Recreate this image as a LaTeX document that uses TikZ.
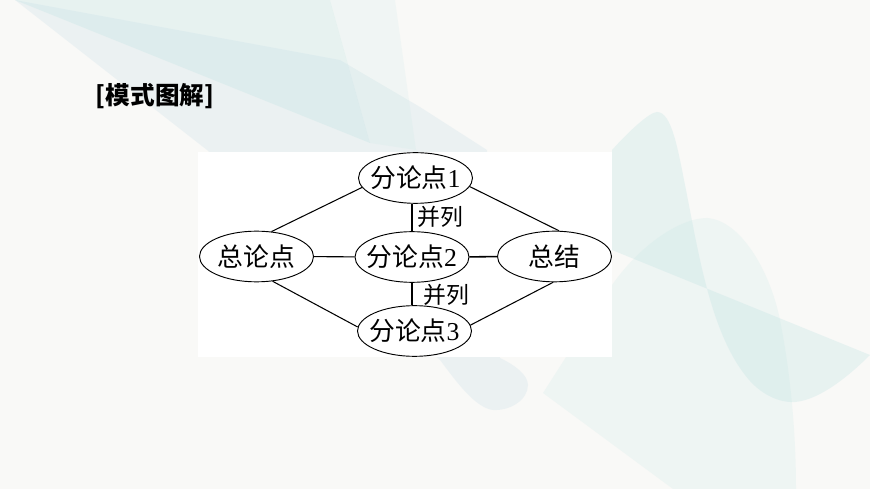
\documentclass[tikz,border=0pt]{standalone}
\usepackage{fontspec}
\usepackage{tikz}
\usetikzlibrary{shapes.geometric}
\setmainfont{Liberation Serif}
\newfontfamily\cjk{Noto Sans CJK SC}
\definecolor{pagebg}{HTML}{F9F9F7}
\definecolor{leafteal}{HTML}{BFE3E3}
\definecolor{bandgrey}{HTML}{DCE8EE}
\tikzset{
    point/.style = {ellipse, draw, line width = 0.8pt, fill = white, inner xsep = -0.6cm, inner ysep = 0pt,
        minimum width = 3.42cm, minimum height = 1.52cm, font = \fontsize{22pt}{22pt}\selectfont},
    link/.style = {line width = 0.9pt},
    relation/.style = {font = \cjk\fontsize{19.5pt}{20pt}\selectfont}
}
\begin{document}
\begin{tikzpicture}[x = 0.03cm, y = -0.03cm]
    \useasboundingbox (0,0) rectangle (870,489);
    \fill [pagebg] (0,0) rectangle (870,489);
    \begin{scope}
    \clip (0,0) rectangle (870,489);
    \fill [bandgrey, opacity = 0.45] (15,0) -- (340,60) -- (420,107) -- (487,150) -- (500,358) .. controls (515,365) and (528,375) .. (528,385) .. controls (528,400) and (510,411) .. (493,410) .. controls (475,408) and (455,380) .. (440,360) -- (207,150) -- cycle;
    \fill [leafteal, opacity = 0.3] (15,0) -- (330,0) -- (370,143) -- cycle;
    \fill [leafteal, opacity = 0.14] (330,0) -- (395,0) -- (416,150) -- (370,143) -- cycle;
    \fill [leafteal, opacity = 0.3] (612,150) .. controls (630,130) and (650,112) .. (657,112) .. controls (672,112) and (678,150) .. (686,190) .. controls (698,250) and (710,330) .. (745,375) .. controls (760,395) and (780,403) .. (795,402) .. controls (820,400) and (850,375) .. (870,355) -- (612,250) -- cycle;
    \fill [leafteal, opacity = 0.18] (543,393) -- (612,285) .. controls (640,245) and (680,218) .. (707,218) .. controls (740,220) and (770,270) .. (780,320) .. controls (790,370) and (796,430) .. (796,489) -- (673,489) -- cycle;
    \end{scope}
    \fill [white] (198,152) rectangle (612,357);
    \node at (155,96) [font = \cjk\bfseries\fontsize{21pt}{21pt}\selectfont] (title) {[模式图解]};
    \node at (415.5,178) [point] (fen1) {{\cjk 分论点}1};
    \node at (412,257) [point] (fen2) {{\cjk 分论点}2};
    \node at (414.5,331) [point] (fen3) {{\cjk 分论点}3};
    \node at (256.5,256.5) [point] (zonglun) {\cjk 总论点};
    \node at (554.5,256.5) [point] (zongjie) {\cjk 总结};
    \node at (440,217) [relation] (bing1) {并列};
    \node at (446,294.5) [relation] (bing2) {并列};
    \draw [link] (zonglun.59) -- (fen1.190);
    \draw [link] (fen1.-9) -- (zongjie.80);
    \draw [link] (zonglun.-57) -- (fen3.176);
    \draw [link] (fen3.6) -- (zongjie.267);
    \draw [link] (zonglun) -- (fen2);
    \draw [line width = 1.3pt] (fen2) -- (zongjie);
    \draw [link] (fen2.north) -- (fen2.north |- fen1.south);
    \draw [link] (fen2.south) -- (fen2.south |- fen3.north);
\end{tikzpicture}
\end{document}
